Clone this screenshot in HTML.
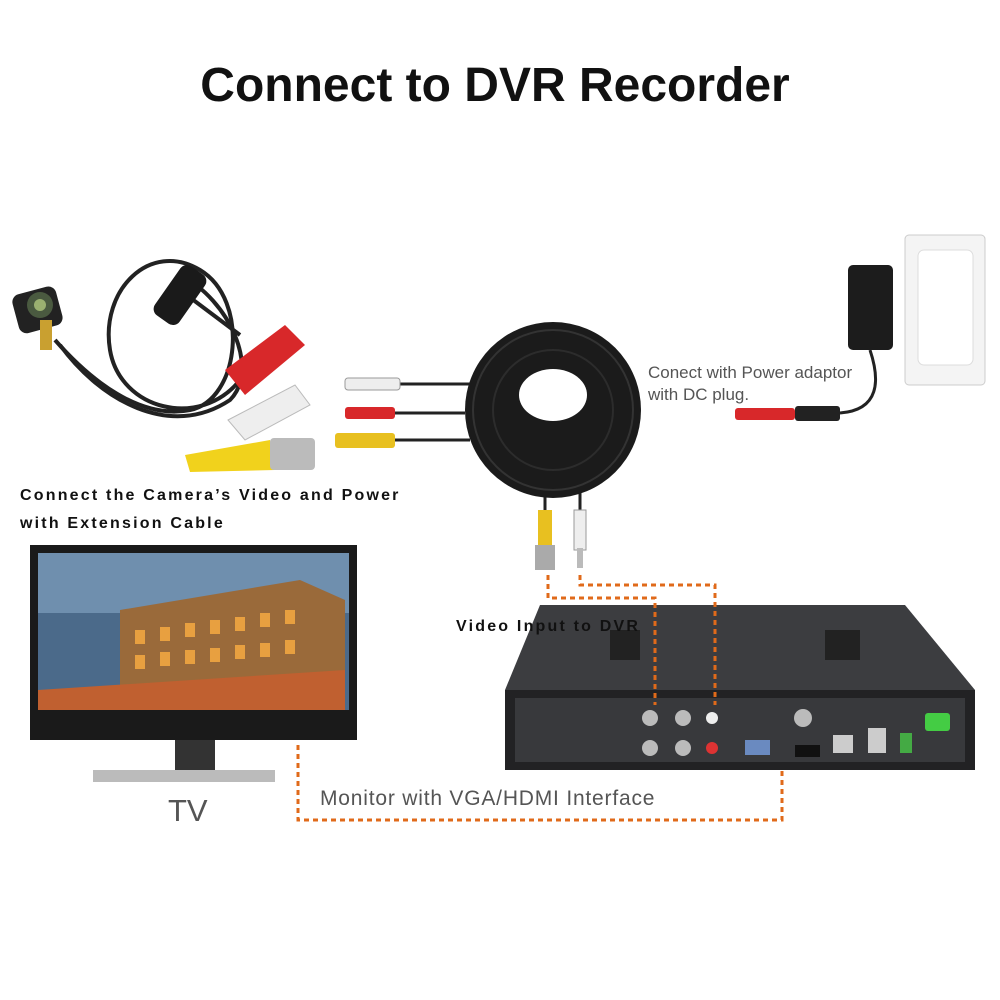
<!DOCTYPE html>
<html><head><meta charset="utf-8">
<style>
html,body{margin:0;padding:0;background:#fff;}
body{width:1000px;height:1000px;position:relative;overflow:hidden;font-family:"Liberation Sans",sans-serif;}
.t{position:absolute;white-space:nowrap;}
</style></head><body>
<div class="t" style="left:0;width:990px;text-align:center;top:58px;font-size:48px;font-weight:bold;color:#111;">Connect to DVR Recorder</div>

<svg width="1000" height="1000" style="position:absolute;left:0;top:0">
  <rect x="15" y="290" width="45" height="40" rx="8" fill="#222" transform="rotate(-15 37 310)"/>
  <circle cx="40" cy="305" r="13" fill="#4a5a40"/>
  <circle cx="40" cy="305" r="6" fill="#9ab070"/>
  <rect x="40" y="320" width="12" height="30" fill="#c9a030"/>
  <g fill="none" stroke="#222" stroke-width="4">
    <path d="M55 340 C90 380,140 420,190 410 C240 400,250 300,200 270 C150 240,100 290,110 350 C120 410,200 430,240 380"/>
    <path d="M60 345 C100 400,170 440,230 400 C260 370,230 300,180 275"/>
    <path d="M180 290 L240 335"/>
  </g>
  <rect x="165" y="265" width="30" height="60" rx="8" fill="#1a1a1a" transform="rotate(35 180 295)"/>
  <path d="M225 370 L285 325 L305 345 L245 395 Z" fill="#d8282a"/>
  <path d="M228 420 L295 385 L310 405 L245 440 Z" fill="#eee" stroke="#bbb"/>
  <path d="M185 455 L270 440 L275 470 L190 472 Z" fill="#f1d21c"/>
  <rect x="270" y="438" width="45" height="32" rx="4" fill="#bbb"/>
  <g stroke="#222" stroke-width="3">
    <line x1="400" y1="384" x2="470" y2="384"/>
    <line x1="395" y1="413" x2="465" y2="413"/>
    <line x1="395" y1="440" x2="470" y2="440"/>
    <line x1="545" y1="480" x2="545" y2="515"/>
    <line x1="580" y1="480" x2="580" y2="515"/>
  </g>
  <rect x="345" y="378" width="55" height="12" rx="3" fill="#eee" stroke="#999"/>
  <rect x="345" y="407" width="50" height="12" rx="3" fill="#d8282a"/>
  <rect x="335" y="433" width="60" height="15" rx="3" fill="#e8c020"/>
  <rect x="538" y="510" width="14" height="40" fill="#e8c020"/>
  <rect x="535" y="545" width="20" height="25" fill="#aaa"/>
  <rect x="574" y="510" width="12" height="40" fill="#eee" stroke="#999"/>
  <rect x="577" y="548" width="6" height="20" fill="#bbb"/>
  <circle cx="553" cy="410" r="88" fill="#1b1b1b"/>
  <ellipse cx="553" cy="395" rx="34" ry="26" fill="#fff"/>
  <circle cx="553" cy="410" r="80" fill="none" stroke="#333" stroke-width="2"/>
  <circle cx="553" cy="410" r="60" fill="none" stroke="#2c2c2c" stroke-width="2"/>
  <rect x="905" y="235" width="80" height="150" rx="4" fill="#f4f4f4" stroke="#ccc"/>
  <rect x="918" y="250" width="55" height="115" rx="6" fill="#fff" stroke="#ddd"/>
  <rect x="848" y="265" width="45" height="85" rx="5" fill="#1c1c1c"/>
  <path d="M870 350 C880 380,880 410,840 413" fill="none" stroke="#222" stroke-width="3"/>
  <rect x="735" y="408" width="60" height="12" rx="3" fill="#d8282a"/>
  <rect x="795" y="406" width="45" height="15" rx="3" fill="#222"/>
  <rect x="30" y="545" width="327" height="195" fill="#1a1a1a"/>
  <rect x="38" y="553" width="311" height="157" fill="#4b6a8a"/>
  <rect x="38" y="553" width="311" height="60" fill="#6f8fae"/>
  <path d="M120 700 L120 610 L300 580 L345 600 L345 700 Z" fill="#9a6a3a"/>
  <g fill="#e8a040"><rect x="135" y="630" width="10" height="14"/><rect x="160" y="627" width="10" height="14"/><rect x="185" y="623" width="10" height="14"/><rect x="210" y="620" width="10" height="14"/><rect x="235" y="617" width="10" height="14"/><rect x="260" y="613" width="10" height="14"/><rect x="285" y="610" width="10" height="14"/><rect x="135" y="655" width="10" height="14"/><rect x="160" y="652" width="10" height="14"/><rect x="185" y="650" width="10" height="14"/><rect x="210" y="648" width="10" height="14"/><rect x="235" y="645" width="10" height="14"/><rect x="260" y="643" width="10" height="14"/><rect x="285" y="640" width="10" height="14"/></g>
  <path d="M38 690 L345 670 L345 710 L38 710 Z" fill="#c06030"/>
  <rect x="175" y="740" width="40" height="30" fill="#333"/>
  <rect x="93" y="770" width="182" height="12" fill="#bbb"/>
  <path d="M540 605 L905 605 L975 690 L505 690 Z" fill="#3c3d40"/>
  <rect x="505" y="690" width="470" height="80" fill="#222224"/>
  <rect x="515" y="698" width="450" height="64" fill="#38393c"/>
  <g fill="#222"><rect x="610" y="630" width="30" height="30"/><rect x="825" y="630" width="35" height="30"/></g>
  <g fill="#bbb"><circle cx="650" cy="718" r="8"/><circle cx="683" cy="718" r="8"/><circle cx="650" cy="748" r="8"/><circle cx="683" cy="748" r="8"/><circle cx="803" cy="718" r="9"/></g>
  <circle cx="712" cy="718" r="6" fill="#eee"/><circle cx="712" cy="748" r="6" fill="#d33"/>
  <rect x="745" y="740" width="25" height="15" fill="#6a8ac0"/>
  <rect x="795" y="745" width="25" height="12" fill="#111"/>
  <rect x="833" y="735" width="20" height="18" fill="#ccc"/>
  <rect x="868" y="728" width="18" height="25" fill="#ccc"/>
  <rect x="900" y="733" width="12" height="20" fill="#4a4"/>
  <rect x="925" y="713" width="25" height="18" rx="3" fill="#4c4"/>
  <g fill="none" stroke="#e06a1a" stroke-width="3" stroke-dasharray="5,4">
    <path d="M548 575 L548 598 L655 598 L655 705"/>
    <path d="M580 575 L580 585 L715 585 L715 705"/>
    <path d="M298 745 L298 820 L782 820 L782 770"/>
  </g>
</svg>

<div class="t" style="left:648px;top:362px;font-size:17px;color:#555;line-height:22px;">Conect with Power adaptor<br>with DC plug.</div>
<div class="t" style="left:20px;top:482px;font-size:16px;font-weight:bold;color:#111;letter-spacing:2.2px;line-height:28px;">Connect the Camera’s Video and Power<br>with Extension Cable</div>
<div class="t" style="left:456px;top:618px;font-size:16px;font-weight:bold;color:#111;letter-spacing:2.2px;">Video Input to DVR</div>
<div class="t" style="left:320px;top:787px;font-size:21px;color:#555;letter-spacing:0.8px;">Monitor with VGA/HDMI Interface</div>
<div class="t" style="left:168px;top:793px;font-size:31px;color:#555;">TV</div>
</body></html>
